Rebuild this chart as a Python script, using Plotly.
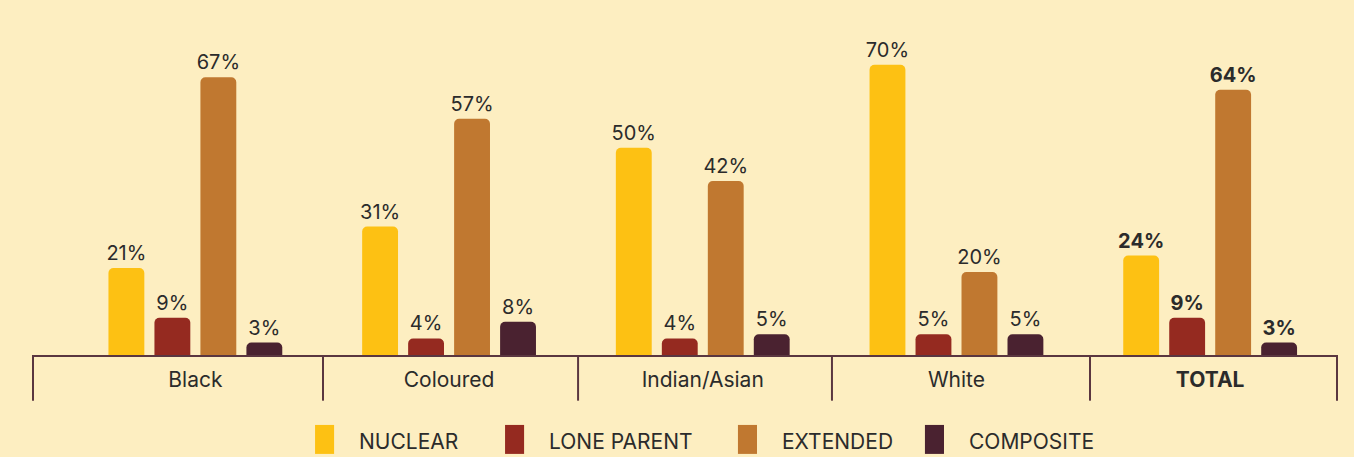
import plotly.graph_objects as go

categories = ["Black", "Coloured", "Indian/Asian", "White", "TOTAL"]
series_names = ["NUCLEAR", "LONE PARENT", "EXTENDED", "COMPOSITE"]
nuclear = [21, 31, 50, 70, 24]
lone_parent = [9, 4, 4, 5, 9]
extended = [67, 57, 42, 20, 64]
composite = [3, 8, 5, 5, 3]

colors = ["#FDC113", "#952A20", "#C07830", "#4A2230"]
BG = "#FDEEC1"
TXT = "#2B2B2B"
LINE = "#5A3640"
FONT = "Inter, Noto Sans, sans-serif"

x_pos = list(range(len(categories)))
tick_text = [c if c != "TOTAL" else "<b>TOTAL</b>" for c in categories]

fig = go.Figure()
for name, vals, col in zip(series_names, [nuclear, lone_parent, extended, composite], colors):
    labels = [f"{v}%" if c != "TOTAL" else f"<b>{v}%</b>" for v, c in zip(vals, categories)]
    fig.add_trace(go.Bar(
        x=x_pos, y=vals, name=name, marker_color=col, marker_line_width=0,
        text=labels, textposition="outside", constraintext="none", cliponaxis=False,
        textfont=dict(family=FONT, size=20, color=TXT),
        showlegend=False,
    ))

fig.update_layout(
    barmode="group", bargap=0.275, bargroupgap=0.22, barcornerradius=5,
    paper_bgcolor=BG, plot_bgcolor=BG,
    width=1354, height=457,
    margin=dict(l=33, r=17, t=40, b=102),
    font=dict(family=FONT, color=TXT),
)
fig.update_xaxes(
    range=[-0.64, 4.5], tickvals=x_pos, ticktext=tick_text,
    tickfont=dict(family=FONT, size=21, color=TXT),
    showline=True, linecolor=LINE, linewidth=2,
    ticks="outside", ticklen=5, tickcolor="rgba(0,0,0,0)",
    showgrid=False, zeroline=False, fixedrange=True,
)
fig.update_yaxes(range=[0, 76], visible=False, showgrid=False, fixedrange=True)

# category divider lines below the axis
for xp in [0.0, 0.2224, 0.418, 0.6127, 0.8106, 1.0]:
    fig.add_shape(type="line", xref="paper", yref="paper", x0=xp, x1=xp, y0=0, y1=-0.145,
                  line=dict(color=LINE, width=2))

# legend drawn as swatches + labels
sw_x = [0.2163, 0.362, 0.5406, 0.6840]
for xs, name, col in zip(sw_x, series_names, colors):
    fig.add_shape(type="rect", xref="paper", yref="paper", x0=xs, x1=xs + 0.0146,
                  y0=-0.314, y1=-0.222, fillcolor=col, line_width=0)
    fig.add_annotation(xref="paper", yref="paper", x=xs + 0.0325, y=-0.276, text=name,
                       showarrow=False, xanchor="left", yanchor="middle",
                       font=dict(family=FONT, size=21, color=TXT))

fig.write_html("out.html", config={"displayModeBar": False},
               post_script="document.body.style.margin='0';")
